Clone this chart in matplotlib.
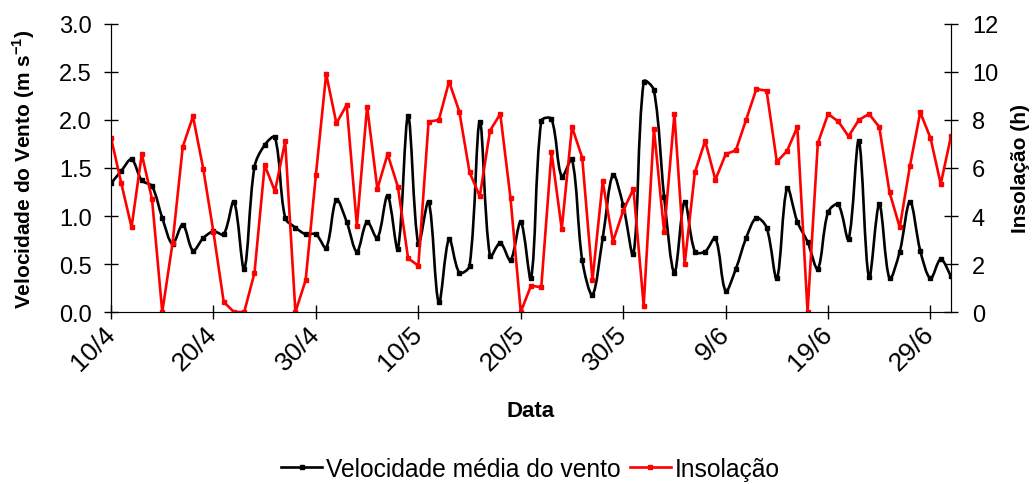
import numpy as np
import pandas as pd
import matplotlib
matplotlib.use("Agg")
import matplotlib.pyplot as plt
import matplotlib.dates as mdates
from matplotlib.path import Path
from matplotlib.patches import PathPatch
from matplotlib.lines import Line2D

plt.rcParams["font.family"] = ["Liberation Sans", "DejaVu Sans"]
plt.rcParams["mathtext.fontset"] = "custom"
plt.rcParams["mathtext.rm"] = "Liberation Sans"
plt.rcParams["mathtext.bf"] = "Liberation Sans:bold"

# daily series, 10/4 to 1/7
datas = pd.date_range("2005-04-10", "2005-07-01", freq="D")

vento = [1.34, 1.47, 1.59, 1.37, 1.31, 0.98, 0.71, 0.91, 0.64, 0.77,
         0.84, 0.81, 1.15, 0.45, 1.51, 1.74, 1.82, 0.98, 0.88, 0.81,
         0.81, 0.67, 1.17, 0.94, 0.63, 0.94, 0.77, 1.21, 0.66, 2.04,
         0.71, 1.15, 0.10, 0.76, 0.41, 0.48, 1.98, 0.58, 0.72, 0.54,
         0.94, 0.35, 1.99, 2.01, 1.41, 1.59, 0.54, 0.18, 0.77, 1.43,
         1.11, 0.60, 2.40, 2.31, 1.20, 0.41, 1.15, 0.63, 0.63, 0.77,
         0.22, 0.45, 0.77, 0.98, 0.88, 0.35, 1.29, 0.94, 0.73, 0.45,
         1.04, 1.12, 0.76, 1.78, 0.36, 1.12, 0.35, 0.63, 1.15, 0.64,
         0.35, 0.55, 0.37]

insolacao = [7.25, 5.36, 3.53, 6.58, 4.70, 0.00, 2.86, 6.88, 8.15, 5.97,
             3.32, 0.42, 0.00, 0.00, 1.62, 6.12, 5.03, 7.11, 0.00, 1.33,
             5.72, 9.92, 7.86, 8.63, 3.60, 8.56, 5.13, 6.58, 5.22, 2.24,
             1.93, 7.93, 8.00, 9.60, 8.35, 5.82, 4.82, 7.56, 8.25, 4.74,
             0.00, 1.10, 1.03, 6.65, 3.46, 7.71, 6.43, 1.33, 5.44, 2.93,
             4.22, 5.13, 0.26, 7.63, 3.32, 8.25, 2.00, 5.82, 7.13, 5.51,
             6.57, 6.74, 8.01, 9.29, 9.22, 6.26, 6.71, 7.71, 0.00, 7.03,
             8.25, 7.94, 7.32, 8.00, 8.25, 7.71, 4.99, 3.53, 6.10, 8.32,
             7.25, 5.33, 7.32]

x = mdates.date2num(datas)

fig = plt.figure(figsize=(10.34, 4.85), dpi=100)
ax = fig.add_axes([0.1074, 0.3546, 0.8123, 0.5939])
ax2 = ax.twinx()

ax.set_xlim(x[0], x[-1])
ax.set_ylim(0, 3)
ax2.set_ylim(0, 12)


def curva_suave(axis, xs, ys, tensao=1 / 3):
    # smoothed line: Bezier segments, tangent length scaled by the
    # on-screen chord lengths so steep jumps don't overshoot
    pix = axis.transData.transform(np.column_stack([xs, ys]))
    n = len(pix)
    d = np.hypot(*np.diff(pix, axis=0).T)
    verts = [pix[0]]
    codes = [Path.MOVETO]
    for i in range(n - 1):
        p0 = pix[i - 1] if i > 0 else pix[i]
        p1, p2 = pix[i], pix[i + 1]
        p3 = pix[i + 2] if i + 2 < n else pix[i + 1]
        da = d[i - 1] if i > 0 else d[i]
        db = d[i + 1] if i + 2 < n else d[i]
        c1 = p1 + (p2 - p0) * tensao * d[i] / (da + d[i])
        c2 = p2 - (p3 - p1) * tensao * d[i] / (d[i] + db)
        verts += [c1, c2, p2]
        codes += [Path.CURVE4] * 3
    verts = axis.transData.inverted().transform(np.array(verts))
    return Path(verts, codes)


ax.add_patch(PathPatch(curva_suave(ax, x, vento), fill=False,
                       edgecolor="black", lw=1.9, capstyle="round",
                       joinstyle="round"))
ax.plot(x, vento, ls="none", marker="s", ms=2.6, color="black")

ax2.plot(x, insolacao, color="#ff0000", lw=1.9, marker="s", ms=2.6)

ax.set_yticks(np.arange(0, 3.01, 0.5))
ax.set_yticklabels([f"{v:.1f}" for v in np.arange(0, 3.01, 0.5)])
ax2.set_yticks(range(0, 13, 2))

ax.set_xticks(x[::10])
ax.set_xticklabels([f"{d.day}/{d.month}" for d in datas[::10]],
                   rotation=45, ha="right", va="center",
                   rotation_mode="anchor", fontsize=19)

for a in (ax, ax2):
    a.spines["top"].set_visible(False)
    a.tick_params(labelsize=17, direction="inout", length=10, width=1)
ax.spines["bottom"].set_color("#808080")
ax.tick_params(axis="x", pad=8, labelsize=19)
ax.tick_params(axis="y", pad=9)
ax2.tick_params(axis="y", pad=10)

ax.set_xlabel("Data", fontsize=16, fontweight="bold")
ax.xaxis.set_label_coords(0.5, -0.305)
ax.set_ylabel(r"Velocidade do Vento (m s$^{\mathbf{-1}}$)", fontsize=15,
              fontweight="bold")
ax.yaxis.set_label_coords(-0.088, 0.5)
ax2.set_ylabel("Insolação (h)", fontsize=15, fontweight="bold")
ax2.yaxis.set_label_coords(1.072, 0.5)

handles = [
    Line2D([], [], color="black", lw=1.9, marker="s", ms=2.6),
    Line2D([], [], color="#ff0000", lw=1.9, marker="s", ms=2.6),
]
fig.legend(handles, ["Velocidade média do vento", "Insolação"],
           loc="center", bbox_to_anchor=(0.513, 0.031), ncol=2,
           frameon=False, fontsize=17.7, handlelength=1.65,
           handletextpad=0.15, columnspacing=0.4)

fig.savefig("out.png", dpi=100)
